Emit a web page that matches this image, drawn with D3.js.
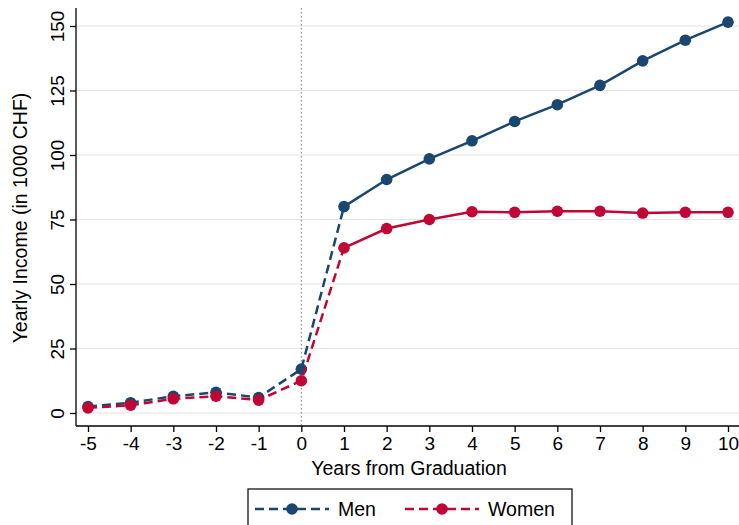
<!DOCTYPE html><html><head><meta charset="utf-8"><script src="https://cdn.jsdelivr.net/npm/d3@7"></script>
<style>body{margin:0;background:#fff}text{font-family:Arial,"Liberation Sans",sans-serif}</style></head><body>
<svg id="c" width="739" height="525"></svg>
<script>
const years=[-5,-4,-3,-2,-1,0,1,2,3,4,5,6,7,8,9,10];
const men=[2.5,4,6.5,8,6,17,80,90.5,98.5,105.5,113,119.5,127,136.5,144.5,151.5];
const women=[2,3,5.5,6.5,5,12.5,64,71.5,75,78,77.8,78.2,78.2,77.5,77.8,77.8];
const yTicks=[0,25,50,75,100,125,150];
const series=[{name:"Men",vals:men,color:"#1a476f"},{name:"Women",vals:women,color:"#c10534"}];
const svg=d3.select("#c");
const x=d3.scaleLinear().domain([-5,10]).range([88,728]);
const y=d3.scaleLinear().domain([0,150]).range([413,26]);
const L=76,B=426,T=8;
svg.append("g").selectAll("line").data(yTicks).join("line").attr("x1",L).attr("x2",739).attr("y1",d=>y(d)).attr("y2",d=>y(d)).attr("stroke","#e4e4e4").attr("stroke-width",1.2);
svg.append("line").attr("x1",x(0)).attr("x2",x(0)).attr("y1",T).attr("y2",B).attr("stroke","#777").attr("stroke-dasharray","1.5,2.5");
const ya=svg.append("g").attr("transform",`translate(${L},0)`).call(d3.axisLeft(y).tickValues(yTicks).tickSize(6).tickPadding(4));
ya.select(".domain").attr("d",`M0,${T}V${B}`);
ya.selectAll(".tick text").attr("transform","translate(-19,0) rotate(-90)").attr("x",0).attr("y",0).attr("dy","0.35em").attr("text-anchor","middle").style("font-size","19px");
const xa=svg.append("g").attr("transform",`translate(0,${B})`).call(d3.axisBottom(x).tickValues(years).tickFormat(d=>String(d)).tickSize(6).tickPadding(5));
xa.select(".domain").attr("d",`M${L},0H739`);
xa.selectAll("text").style("font-size","19px");
svg.selectAll(".domain,.tick line").attr("stroke","#000").attr("stroke-width",1.3);
svg.append("text").attr("x",409).attr("y",475).attr("text-anchor","middle").style("font-size","19.5px").text("Years from Graduation");
svg.append("text").attr("transform","translate(27,218) rotate(-90)").attr("text-anchor","middle").style("font-size","19.5px").text("Yearly Income (in 1000 CHF)");
const line=d3.line().x(d=>x(d[0])).y(d=>y(d[1]));
series.forEach(s=>{
  const pts=years.map((t,i)=>[t,s.vals[i]]);
  svg.append("path").attr("d",line(pts.filter(p=>p[0]<=1))).attr("fill","none").attr("stroke",s.color).attr("stroke-width",2.5).attr("stroke-dasharray","9,5");
  svg.append("path").attr("d",line(pts.filter(p=>p[0]>=1))).attr("fill","none").attr("stroke",s.color).attr("stroke-width",2.5);
  svg.append("g").selectAll("circle").data(pts).join("circle").attr("cx",d=>x(d[0])).attr("cy",d=>y(d[1])).attr("r",5.8).attr("fill",s.color);
});
const lg=svg.append("g");
lg.append("rect").attr("x",248).attr("y",489).attr("width",324).attr("height",40).attr("fill","#fff").attr("stroke","#000").attr("stroke-width",1.2);
series.forEach((s,i)=>{
  const ox=255+i*150, cy=509;
  lg.append("line").attr("x1",ox).attr("x2",ox+74).attr("y1",cy).attr("y2",cy).attr("stroke",s.color).attr("stroke-width",2.5).attr("stroke-dasharray","9,5");
  lg.append("circle").attr("cx",ox+37).attr("cy",cy).attr("r",5.8).attr("fill",s.color);
  lg.append("text").attr("x",ox+83).attr("y",cy).attr("dy","0.35em").style("font-size","19.5px").text(s.name);
});
</script></body></html>
